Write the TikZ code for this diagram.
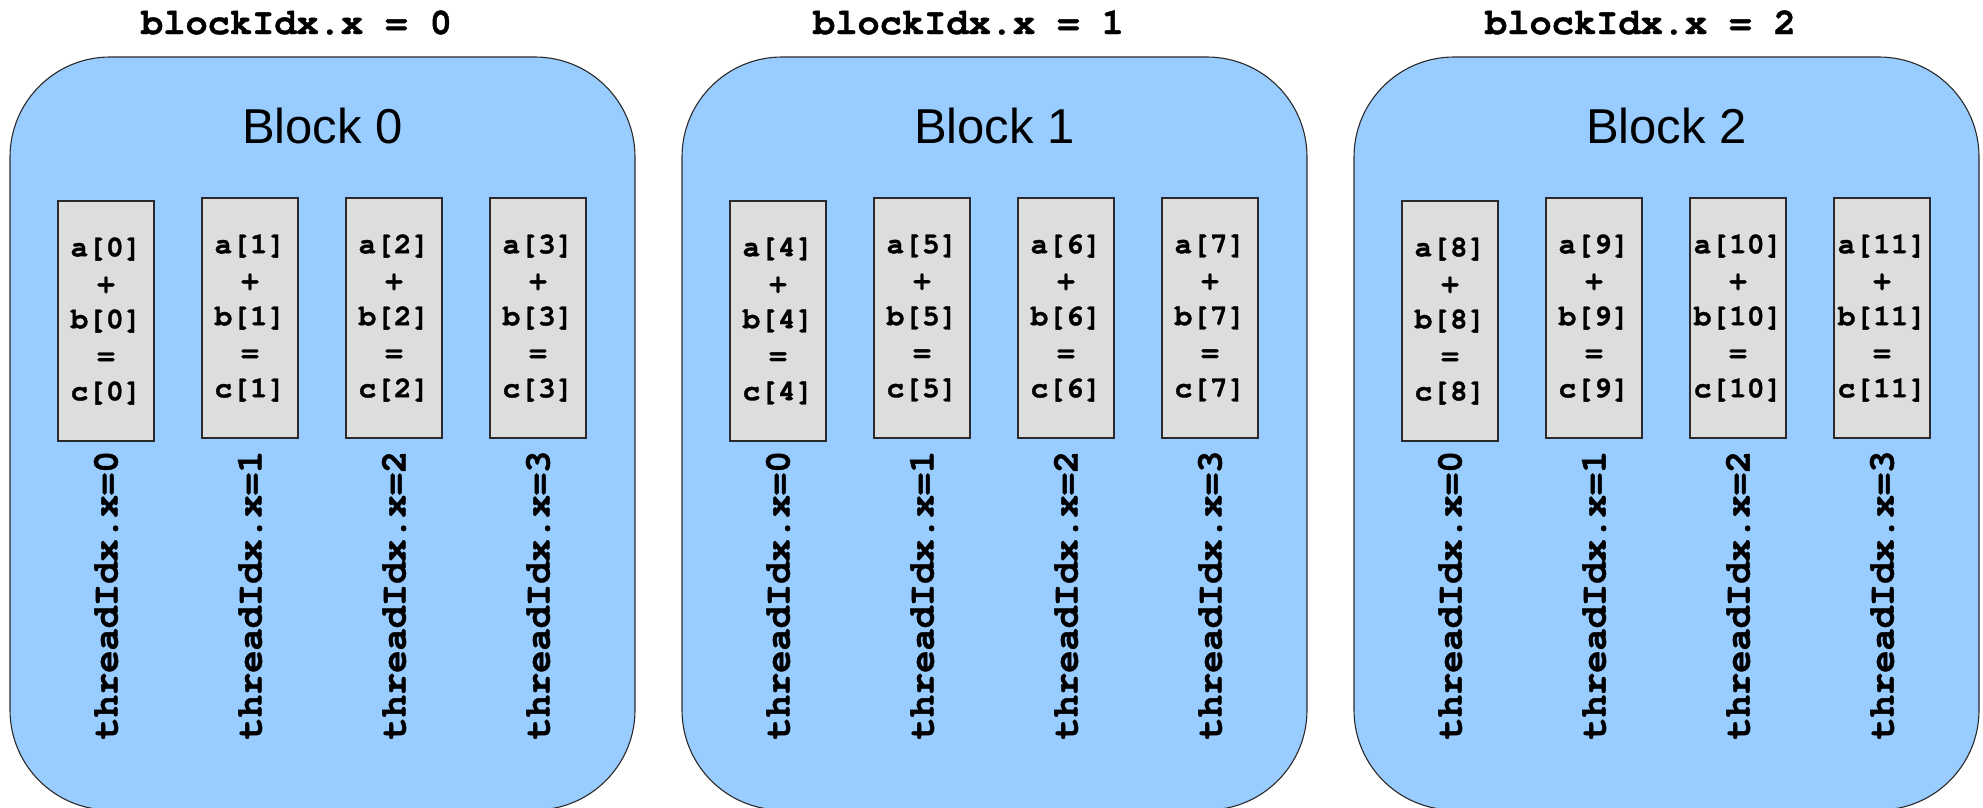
\documentclass[tikz,border=0pt]{standalone}
\usepackage{fontspec}
\setmainfont{Liberation Sans}
\setsansfont{Liberation Sans}
\setmonofont{TeX Gyre Cursor}[BoldFeatures={FakeBold=1.2}]
\definecolor{blockblue}{HTML}{99CCFF}
\definecolor{cellgray}{HTML}{DDDDDD}
\definecolor{edgegray}{HTML}{2A2A2A}
\tikzset{
  blockbox/.style={draw=edgegray, fill=blockblue, line width=1.1pt,
    rounded corners=100pt, minimum width=625, minimum height=753, inner sep=0pt},
  titletext/.style={inner sep=0pt, font=\fontsize{37}{44}\selectfont\ttfamily\bfseries},
  blocklabel/.style={inner sep=0pt, font=\fontsize{49}{58}\selectfont\sffamily},
  cell/.style={draw=edgegray, fill=cellgray, line width=1.1pt, minimum width=96,
    minimum height=240, inner sep=0pt, align=center,
    font=\fontsize{29.5}{36}\selectfont\ttfamily\bfseries},
  threadlabel/.style={inner sep=0pt, rotate=90,
    font=\fontsize{37}{44}\selectfont\ttfamily\bfseries}
}
\begin{document}
\begin{tikzpicture}[x=1pt,y=-1pt]
\useasboundingbox (0,0) rectangle (1983,807);
\clip (0,0) rectangle (1983,807);
\foreach \b in {0,1,2} {
  \pgfmathsetmacro\bx{10+672*\b}
  % the block with its index and name
  \node[blockbox] (blk\b) at (\bx+312.5,433.5) {};
  \node[titletext] (title\b) at (\bx+286.5,22.5) {blockIdx.x = \b};
  \node[blocklabel] (name\b) at (\bx+312.5,126) {Block \b};
  % one cell and one thread index per thread
  \foreach \t in {0,...,3} {
    \pgfmathtruncatemacro\i{4*\b+\t}
    \pgfmathsetmacro\cx{\bx+96+144*\t}
    \pgfmathsetmacro\cy{\t==0 ? 321 : 318}
    \node[cell] (cell\i) at (\cx,\cy) {a[\i]\\+\\b[\i]\\=\\c[\i]};
    \node[threadlabel] (tid\i) at (\cx,595) {threadIdx.x=\t};
  }
}
\end{tikzpicture}
\end{document}
